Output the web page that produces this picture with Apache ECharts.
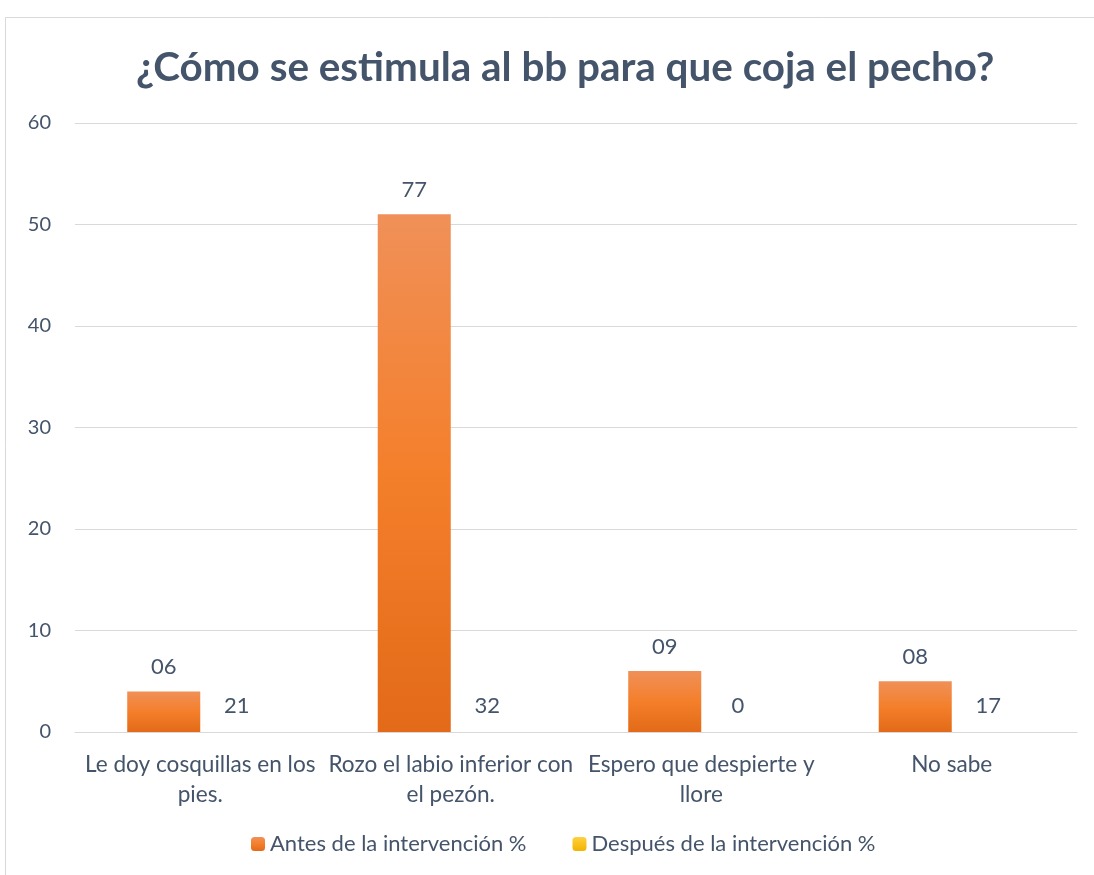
<!DOCTYPE html>
<html>
<head>
<meta charset="UTF-8">
<title>Estimulo bb</title>
<script src="https://cdn.jsdelivr.net/npm/echarts@6/dist/echarts.min.js"></script>
<style>
  html, body { margin: 0; padding: 0; background: #fff; }
  #main { width: 1094px; height: 875px; }
</style>
</head>
<body>
<div id="main"></div>
<script>
var categorias = ['Le doy cosquillas en los\npies.', 'Rozo el labio inferior con\nel pezón.', 'Espero que despierte y\nllore', 'No sabe'];
var antes = [4, 51, 6, 5];
var despues = [0, 0, 0, 0];
var etiquetasAntes = ['06', '77', '09', '08'];
var etiquetasDespues = ['21', '32', '0', '17'];
var ticksY = [0, 10, 20, 30, 40, 50, 60];

var txt = '#44546A';
var fuente = 'Lato, "Open Sans", sans-serif';

var myChart = echarts.init(document.getElementById('main'));

var option = {
  animation: false,
  textStyle: { fontFamily: fuente, color: txt },
  graphic: [{
    type: 'rect',
    shape: { x: 5.5, y: 17.5, width: 1100, height: 900 },
    style: { fill: 'none', stroke: '#D9D9D9', lineWidth: 1 },
    silent: true
  }],
  title: {
    text: '¿Cómo se estimula al bb para que coja el pecho?',
    left: 131,
    top: 43,
    textStyle: { fontFamily: fuente, fontSize: 40.4, fontWeight: 'bold', color: txt }
  },
  legend: {
    bottom: 15,
    left: 246,
    itemWidth: 14,
    itemHeight: 14,
    itemGap: 46,
    textStyle: { fontFamily: fuente, fontSize: 22, color: txt },
    data: ['Antes de la intervención %', 'Después de la intervención %']
  },
  grid: { left: 75, right: 17, top: 123, bottom: 143 },
  xAxis: {
    type: 'category',
    data: categorias,
    axisTick: { show: false },
    axisLine: { lineStyle: { color: '#D9D9D9', width: 1 } },
    axisLabel: { interval: 0, fontFamily: fuente, fontSize: 22.6, color: txt, lineHeight: 30, margin: 18 }
  },
  yAxis: {
    type: 'value',
    min: ticksY[0],
    max: ticksY[ticksY.length - 1],
    interval: 10,
    axisLine: { show: false },
    axisTick: { show: false },
    splitLine: { lineStyle: { color: '#D9D9D9', width: 1 } },
    axisLabel: { fontFamily: fuente, fontSize: 20, color: txt, margin: 24 }
  },
  series: [{
    name: 'Antes de la intervención %',
    type: 'bar',
    data: antes,
    barGap: '0%',
    barCategoryGap: '41.7%',
    itemStyle: {
      color: new echarts.graphic.LinearGradient(0, 0, 0, 1, [
        { offset: 0, color: '#F09058' },
        { offset: 0.5, color: '#F47F2B' },
        { offset: 1, color: '#E26A18' }
      ])
    },
    label: {
      show: true,
      position: 'top',
      distance: 13,
      fontFamily: fuente,
      fontSize: 22,
      color: txt,
      formatter: function (p) { return etiquetasAntes[p.dataIndex]; }
    }
  }, {
    name: 'Después de la intervención %',
    type: 'bar',
    data: despues,
    itemStyle: {
      color: new echarts.graphic.LinearGradient(0, 0, 0, 1, [
        { offset: 0, color: '#FFD040' },
        { offset: 1, color: '#F0B400' }
      ])
    },
    label: {
      show: true,
      position: 'top',
      distance: 15,
      fontFamily: fuente,
      fontSize: 22,
      color: txt,
      formatter: function (p) { return etiquetasDespues[p.dataIndex]; }
    }
  }]
};

myChart.setOption(option);
</script>
</body>
</html>
